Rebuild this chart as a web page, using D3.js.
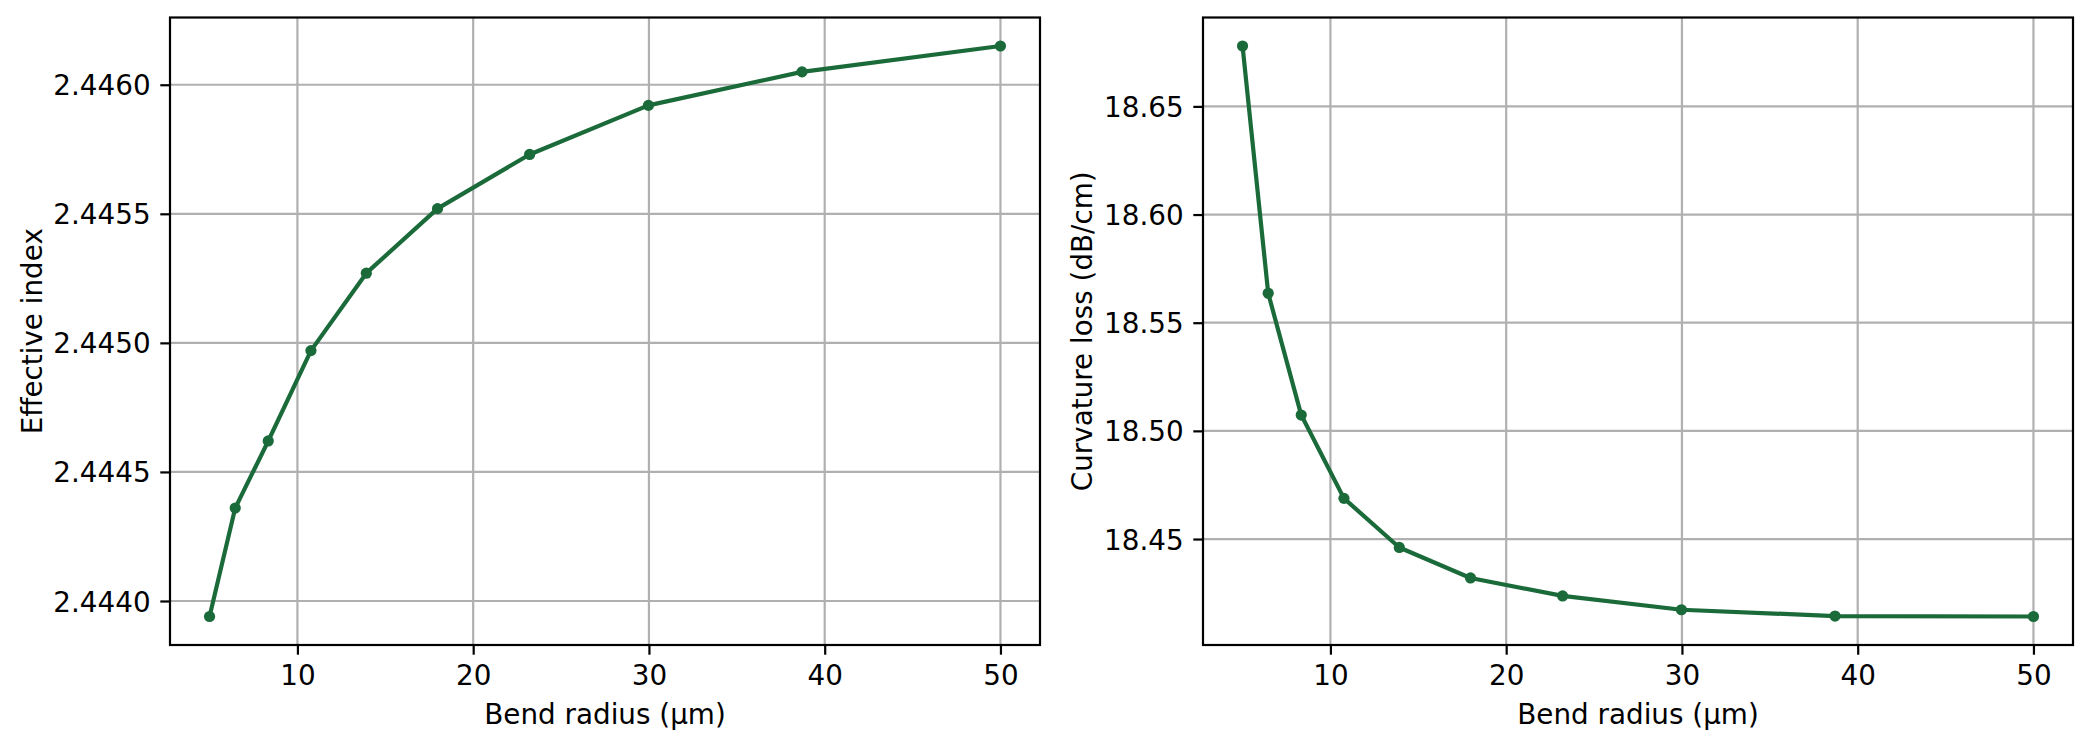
<!DOCTYPE html>
<html>
<head>
<meta charset="utf-8">
<script src="https://cdn.jsdelivr.net/npm/d3@7"></script>
<style>
    body { margin: 0; background: #fff; }
    svg { display: block; }
    text { font-family: 'DejaVu Sans', sans-serif; fill: #000; }
</style>
</head>
<body>
<div id="chart"></div>
<script>
'use strict';

// Data
const bendRadius = [5, 6.46, 8.34, 10.77, 13.92, 17.97, 23.21, 29.97, 38.71, 50];
const effIndex = [2.44394, 2.44436, 2.44462, 2.44497, 2.44527, 2.44552, 2.44573, 2.44592, 2.44605, 2.44615];
const curvLoss = [18.6779, 18.5636, 18.5073, 18.4688, 18.4461, 18.4320, 18.4237, 18.4173, 18.4144, 18.4142];
const xTicks = [10, 20, 30, 40, 50];
const effTicks = [2.4440, 2.4445, 2.4450, 2.4455, 2.4460];
const lossTicks = [18.45, 18.50, 18.55, 18.60, 18.65];

/*
LinePanel
 */
class LinePanel {

    // Configs
    fontSize = 27.8;
    tickLen = 9.7;
    tickPad = 9.7;
    lineColor = '#1b6a3a';

    constructor(_svg, _opts) {
        this.svg = _svg;
        this.opts = _opts;
        this.init();
    }

    init() {
        const vis = this;
        const o = vis.opts;

        vis.gW = o.right - o.left;
        vis.gH = o.bottom - o.top;

        // Scales with matplotlib-like 5% margins
        const pad = (ext) => {
            const r = ext[1] - ext[0];
            return [ext[0] - 0.05 * r, ext[1] + 0.05 * r];
        };
        vis.xScale = d3.scaleLinear()
            .domain(pad(d3.extent(o.x)))
            .range([0, vis.gW]);
        vis.yScale = d3.scaleLinear()
            .domain(pad(d3.extent(o.y)))
            .range([vis.gH, 0]);

        vis.g = vis.svg.append('g')
            .attr('transform', `translate(${o.left},${o.top})`);

        // Grid
        const gridG = vis.g.append('g').attr('class', 'grid');
        gridG.selectAll('.vgrid')
            .data(o.xTicks)
            .join('line')
            .attr('x1', d => vis.xScale(d))
            .attr('x2', d => vis.xScale(d))
            .attr('y1', 0)
            .attr('y2', vis.gH)
            .attr('stroke', '#b0b0b0')
            .attr('stroke-width', 2.2);
        gridG.selectAll('.hgrid')
            .data(o.yTicks)
            .join('line')
            .attr('x1', 0)
            .attr('x2', vis.gW)
            .attr('y1', d => vis.yScale(d))
            .attr('y2', d => vis.yScale(d))
            .attr('stroke', '#b0b0b0')
            .attr('stroke-width', 2.2);

        // Line + markers
        const pts = o.x.map((d, i) => [d, o.y[i]]);
        vis.g.append('path')
            .datum(pts)
            .attr('fill', 'none')
            .attr('stroke', vis.lineColor)
            .attr('stroke-width', 4.2)
            .attr('stroke-linejoin', 'round')
            .attr('d', d3.line()
                .x(d => vis.xScale(d[0]))
                .y(d => vis.yScale(d[1])));
        vis.g.selectAll('.dot')
            .data(pts)
            .join('circle')
            .attr('cx', d => vis.xScale(d[0]))
            .attr('cy', d => vis.yScale(d[1]))
            .attr('r', 5.6)
            .attr('fill', vis.lineColor);

        // Axes
        const xAxis = d3.axisBottom(vis.xScale)
            .tickValues(o.xTicks)
            .tickSize(vis.tickLen)
            .tickPadding(vis.tickPad)
            .tickFormat(d3.format('d'));
        const yAxis = d3.axisLeft(vis.yScale)
            .tickValues(o.yTicks)
            .tickSize(vis.tickLen)
            .tickPadding(vis.tickPad)
            .tickFormat(d3.format(o.yFormat));

        const xAxisG = vis.g.append('g')
            .attr('transform', `translate(0,${vis.gH})`)
            .call(xAxis);
        const yAxisG = vis.g.append('g')
            .call(yAxis);

        [xAxisG, yAxisG].forEach(a => {
            a.select('.domain').remove();
            a.selectAll('.tick line').attr('stroke', '#000').attr('stroke-width', 2.2);
            a.selectAll('.tick text')
                .attr('font-family', "'DejaVu Sans', sans-serif")
                .attr('font-size', vis.fontSize)
                .attr('fill', '#000');
        });
        xAxisG.selectAll('.tick text').attr('dy', '0.74em');
        yAxisG.selectAll('.tick text').attr('dy', '0.36em');

        // Spines
        vis.g.append('rect')
            .attr('x', 0)
            .attr('y', 0)
            .attr('width', vis.gW)
            .attr('height', vis.gH)
            .attr('fill', 'none')
            .attr('stroke', '#000')
            .attr('stroke-width', 2.2);

        // Labels
        vis.g.append('text')
            .attr('x', vis.gW / 2)
            .attr('y', vis.gH + 79)
            .attr('text-anchor', 'middle')
            .attr('font-size', vis.fontSize)
            .text(o.xLabel);
        vis.g.append('text')
            .attr('transform', `translate(${o.yLabelX - o.left},${vis.gH / 2}) rotate(-90)`)
            .attr('text-anchor', 'middle')
            .attr('font-size', vis.fontSize)
            .text(o.yLabel);
    }
}

const svg = d3.select('#chart')
    .append('svg')
    .attr('width', 2092)
    .attr('height', 748);

svg.append('rect')
    .attr('width', 2092)
    .attr('height', 748)
    .attr('fill', '#fff');

new LinePanel(svg, {
    left: 170, right: 1040, top: 17.5, bottom: 645,
    x: bendRadius, y: effIndex,
    xTicks: xTicks, yTicks: effTicks, yFormat: '.4f',
    xLabel: 'Bend radius (µm)', yLabel: 'Effective index',
    yLabelX: 41.5
});

new LinePanel(svg, {
    left: 1203, right: 2073, top: 17.5, bottom: 645,
    x: bendRadius, y: curvLoss,
    xTicks: xTicks, yTicks: lossTicks, yFormat: '.2f',
    xLabel: 'Bend radius (µm)', yLabel: 'Curvature loss (dB/cm)',
    yLabelX: 1091.5
});
</script>
</body>
</html>
